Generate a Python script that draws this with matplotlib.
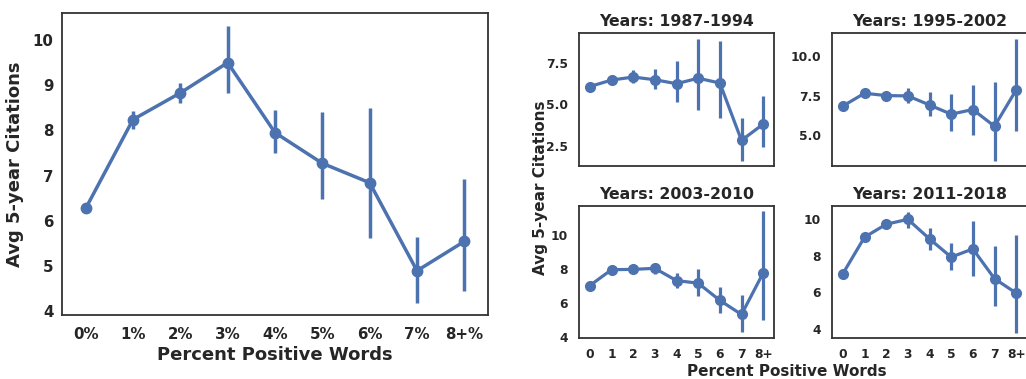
import numpy as np
import matplotlib.pyplot as plt

BLUE = '#4C72B0'
EDGE = '#333333'
TXT = '#262626'

# overall (left panel)
left_labels = ['0%', '1%', '2%', '3%', '4%', '5%', '6%', '7%', '8+%']
left_mean = [6.27, 8.24, 8.83, 9.50, 7.95, 7.27, 6.84, 4.89, 5.54]
left_lo = [6.27, 8.04, 8.60, 8.82, 7.49, 6.48, 5.61, 4.18, 4.44]
left_hi = [6.27, 8.43, 9.06, 10.31, 8.46, 8.40, 8.49, 5.64, 6.92]

# per period (right panels)
small_labels = ['0', '1', '2', '3', '4', '5', '6', '7', '8+']
titles = ['Years: 1987-1994', 'Years: 1995-2002', 'Years: 2003-2010', 'Years: 2011-2018']

mean_8794 = [6.08, 6.47, 6.65, 6.49, 6.25, 6.58, 6.29, 2.84, 3.82]
lo_8794 = [6.08, 6.47, 6.28, 5.92, 5.17, 4.67, 4.20, 1.59, 2.44]
hi_8794 = [6.08, 6.47, 7.10, 7.14, 7.60, 8.96, 8.82, 4.20, 5.52]

mean_9502 = [6.83, 7.65, 7.50, 7.48, 6.90, 6.31, 6.61, 5.54, 7.86]
lo_9502 = [6.83, 7.65, 7.50, 7.02, 6.19, 5.24, 4.96, 3.30, 5.24]
hi_9502 = [6.83, 7.65, 7.50, 8.00, 7.70, 7.60, 8.19, 8.40, 11.12]

mean_0310 = [7.03, 7.96, 7.98, 8.04, 7.32, 7.17, 6.16, 5.33, 7.77]
lo_0310 = [7.03, 7.96, 7.98, 7.70, 6.88, 6.41, 5.39, 4.29, 5.00]
hi_0310 = [7.03, 7.96, 7.98, 8.35, 7.77, 8.00, 6.93, 6.45, 11.39]

mean_1118 = [7.02, 9.02, 9.73, 10.00, 8.93, 7.93, 8.38, 6.75, 5.96]
lo_1118 = [7.02, 9.02, 9.73, 9.51, 8.33, 7.20, 6.87, 5.24, 3.78]
hi_1118 = [7.02, 9.02, 9.73, 10.42, 9.51, 8.69, 9.93, 8.56, 9.15]

plt.rcParams['font.family'] = 'DejaVu Sans'
plt.rcParams['font.weight'] = 'bold'

W, H = 1026, 379
fig = plt.figure(figsize=(W / 100, H / 100), dpi=100)


def px_axes(left, top, right, bottom):
    return fig.add_axes([left / W, (H - bottom) / H, (right - left) / W, (bottom - top) / H])


def draw(ax, mean, lo, hi, labels, ms, lw, fs, xpad, ypad):
    x = np.arange(len(mean))
    ax.vlines(x, lo, hi, color=BLUE, lw=lw, zorder=2)
    ax.plot(x, mean, color=BLUE, lw=lw, marker='o', ms=ms, zorder=3)
    ax.set_xticks(x)
    ax.set_xticklabels(labels)
    ax.set_xlim(-0.5, len(mean) - 0.5)
    ax.tick_params(length=0, labelsize=fs)
    ax.tick_params(axis='x', pad=xpad)
    ax.tick_params(axis='y', pad=ypad)
    for lab in ax.get_xticklabels() + ax.get_yticklabels():
        lab.set_fontweight('bold')
        lab.set_color(TXT)
    for s in ax.spines.values():
        s.set_color(EDGE)
        s.set_linewidth(1.3)


# left panel
ax = px_axes(62, 13, 488, 315)
draw(ax, left_mean, left_lo, left_hi, left_labels, 7.5, 2.5, 10.8, 8.5, 6)
ax.set_ylim(3.91, 10.6)
ax.set_yticks([4, 5, 6, 7, 8, 9, 10])
ax.set_xlabel('Percent Positive Words', fontsize=13, fontweight='bold', color=TXT, labelpad=3)
ax.set_ylabel('Avg 5-year Citations', fontsize=13, fontweight='bold', color=TXT, labelpad=6)

# right panels
boxes = [(579, 33, 774, 166), (832, 33, 1027, 166), (579, 206, 774, 338), (832, 206, 1027, 338)]
means = [mean_8794, mean_9502, mean_0310, mean_1118]
los = [lo_8794, lo_9502, lo_0310, lo_1118]
his = [hi_8794, hi_9502, hi_0310, hi_1118]
ylims = [(1.3, 9.3), (3.0, 11.5), (3.95, 11.7), (3.5, 10.73)]
yticks = [[2.5, 5.0, 7.5], [5.0, 7.5, 10.0], [4, 6, 8, 10], [4, 6, 8, 10]]

for i in range(4):
    a = px_axes(*boxes[i])
    draw(a, means[i], los[i], his[i], small_labels, 7, 2.3, 8.8, 7, 8)
    a.set_ylim(*ylims[i])
    a.set_yticks(yticks[i])
    a.set_title(titles[i], fontsize=11.3, fontweight='bold', color=TXT, pad=5)
    if i < 2:
        a.set_xticklabels([])

fig.text(540 / W, 1 - 188 / H, 'Avg 5-year Citations', rotation=90, ha='center', va='center',
         fontsize=11, fontweight='bold', color=TXT)
fig.text(787 / W, 1 - 371 / H, 'Percent Positive Words', ha='center', va='center',
         fontsize=11, fontweight='bold', color=TXT)

fig.savefig('out.png', dpi=100)
